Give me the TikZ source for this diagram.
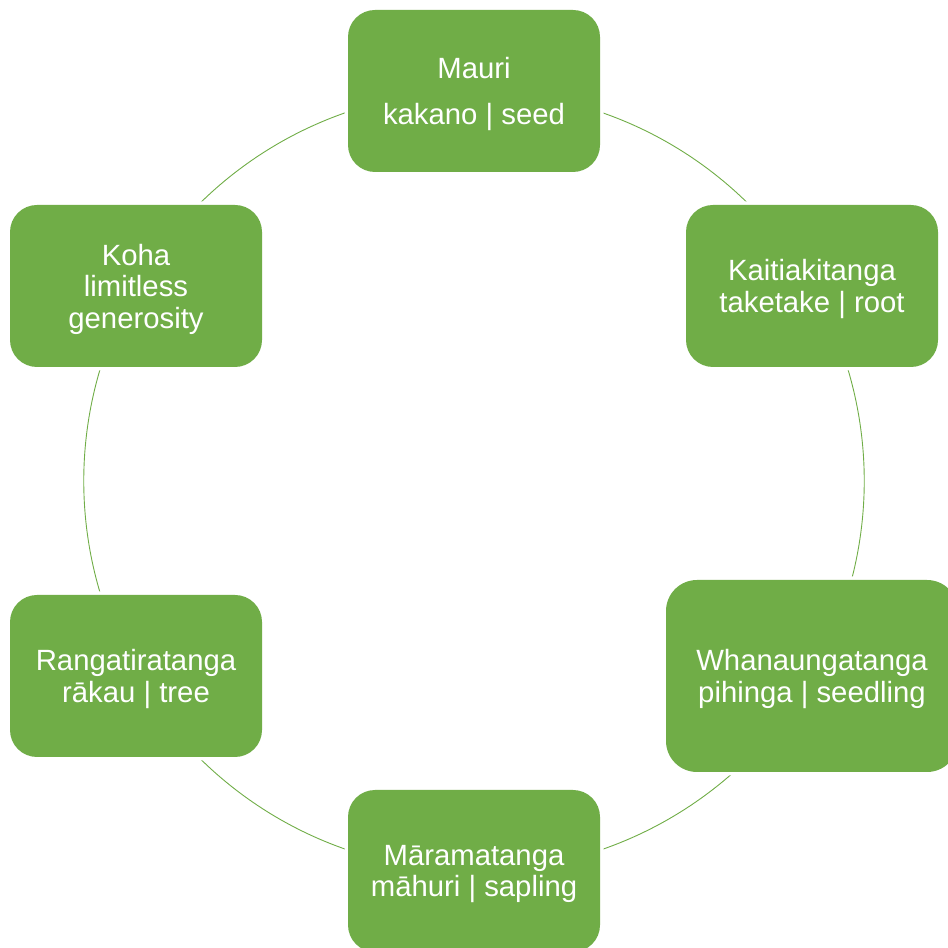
\documentclass[tikz,border=0pt]{standalone}
\usepackage{fontspec}
\setmainfont{Liberation Sans}
\definecolor{leaf}{HTML}{70AD47}
\begin{document}
\begin{tikzpicture}[x=1pt,y=1pt,
  boxtext/.style={text=white, inner sep=0pt, align=center, yshift=-3pt,
    font=\fontsize{29.3}{31.5}\selectfont},
  stagebox/.style={rectangle, rounded corners=27pt, fill=leaf,
    minimum width=252pt, minimum height=162pt, inner sep=0pt,
    preaction={draw=white, line width=7pt},
    label={[boxtext]center:#1}},
  bigbox/.style={stagebox={#1}, rounded corners=31pt, minimum width=292pt, minimum height=192pt},
  ring/.style={draw=leaf, line width=0.9pt}]
\useasboundingbox (0,0) rectangle (948,948);
\coordinate (mc) at (474,857);
\coordinate (kc) at (812,662);
\coordinate (wc) at (812,272);
\coordinate (ac) at (474,77);
\coordinate (rc) at (136,272);
\coordinate (hc) at (136,662);
\draw[ring] (mc) arc[start angle=90, end angle=30, radius=390pt];
\draw[ring] (kc) arc[start angle=30, end angle=-30, radius=390pt];
\draw[ring] (wc) arc[start angle=-30, end angle=-90, radius=390pt];
\draw[ring] (ac) arc[start angle=270, end angle=210, radius=390pt];
\draw[ring] (rc) arc[start angle=210, end angle=150, radius=390pt];
\draw[ring] (hc) arc[start angle=150, end angle=90, radius=390pt];
\node[stagebox={Mauri\\[14.5pt]kakano | seed}] (mauri) at (mc) {};
\node[stagebox={Kaitiakitanga\\taketake | root}] (kait) at (kc) {};
\node[bigbox={Whanaungatanga\\pihinga | seedling}] (whan) at (wc) {};
\node[stagebox={Māramatanga\\māhuri | sapling}] (mara) at (ac) {};
\node[stagebox={Rangatiratanga\\rākau | tree}] (rang) at (rc) {};
\node[stagebox={Koha\\limitless\\generosity}] (koha) at (hc) {};
\end{tikzpicture}
\end{document}
